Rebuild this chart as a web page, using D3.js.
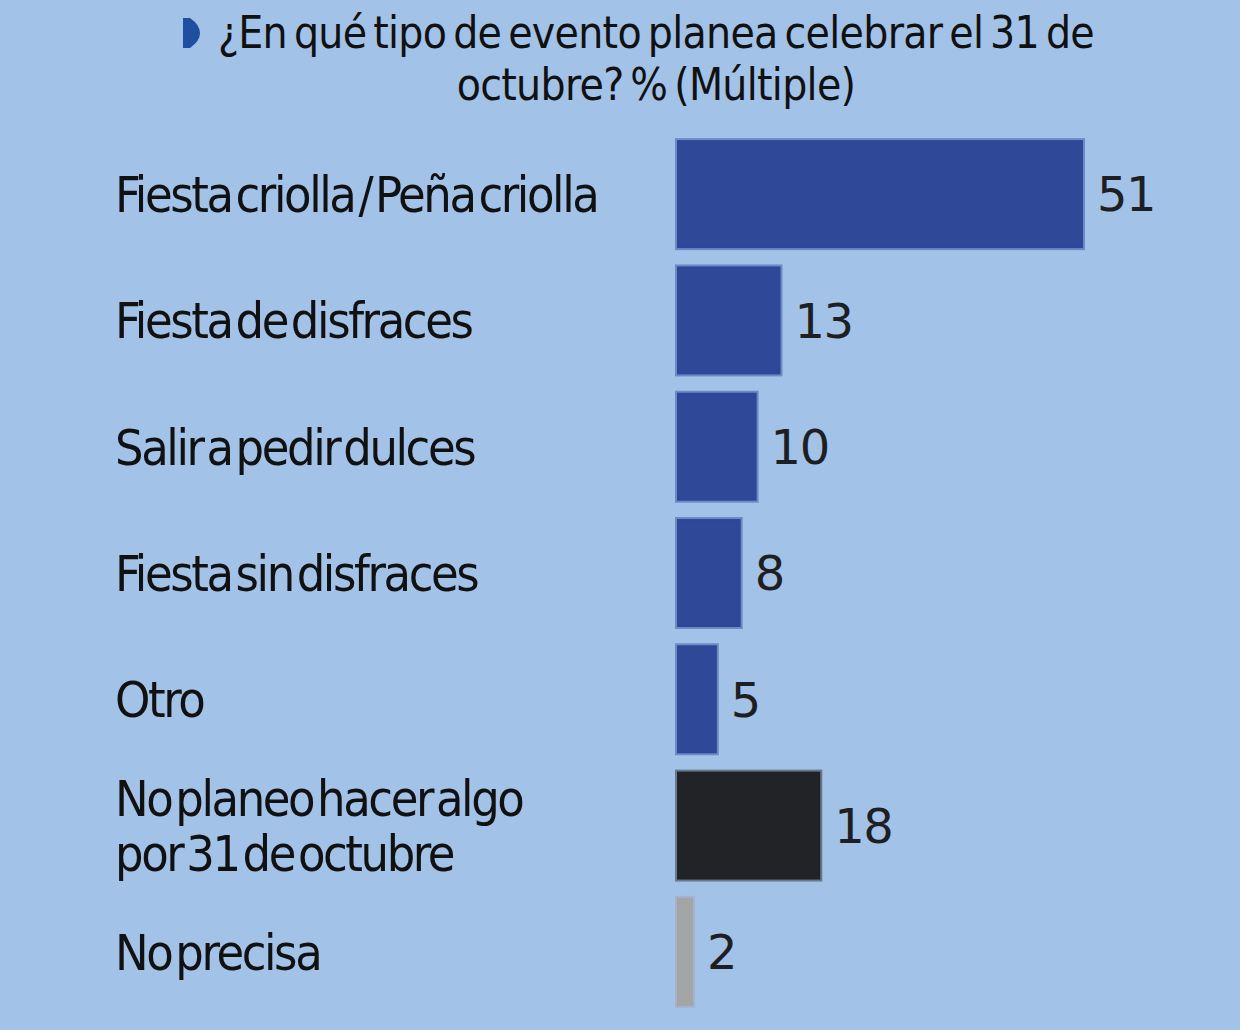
<!DOCTYPE html>
<html>
<head>
<meta charset="utf-8">
<script src="https://cdn.jsdelivr.net/npm/d3@7"></script>
<style>
  html, body { margin: 0; padding: 0; background: #a2c2e8; }
  svg { display: block; }
</style>
</head>
<body>
<svg id="chart" width="1240" height="1030"></svg>
<script>
const categories = [
  "Fiesta criolla / Peña criolla",
  "Fiesta de disfraces",
  "Salir a pedir dulces",
  "Fiesta sin disfraces",
  "Otro",
  "No planeo hacer algo|por 31 de octubre",
  "No precisa"
];
const values = [51, 13, 10, 8, 5, 18, 2];
const barColors = ["#2f4898", "#2f4898", "#2f4898", "#2f4898", "#2f4898", "#222326", "#a4a5a7"];
const titleLines = ["¿En qué tipo de evento planea celebrar el 31 de", "octubre? % (Múltiple)"];

const W = 1240, H = 1030;
const svg = d3.select("#chart");
svg.append("rect").attr("width", W).attr("height", H).attr("fill", "#a2c2e8");

const x = d3.scaleLinear().domain([0, 51]).range([677, 1083]);
const y = d3.scaleBand().domain(categories).range([131, 1015]).paddingInner(0.145).paddingOuter(0.0725);

const labelFont = "'Liberation Sans Narrow', 'DejaVu Sans Condensed', sans-serif";

// Title
const title = svg.append("g");
title.selectAll("text").data(titleLines).join("text")
  .attr("x", 656)
  .attr("y", (d, i) => 48 + i * 52)
  .attr("text-anchor", "middle")
  .attr("font-family", labelFont)
  .attr("font-size", 44)
  .attr("letter-spacing", -0.7)
  .attr("word-spacing", -5)
  .attr("fill", "#111")
  .text(d => d);
title.append("path")
  .attr("d", "M183,18 L190,18 Q200,25 200,33 Q200,41 190,48 L183,48 Z")
  .attr("fill", "#1f4fa0");

// Bars
svg.append("g").selectAll("rect").data(categories).join("rect")
  .attr("x", x(0))
  .attr("y", d => y(d))
  .attr("width", (d, i) => x(values[i]) - x(0))
  .attr("height", y.bandwidth())
  .attr("fill", (d, i) => barColors[i])
  .attr("stroke", (d, i) => barColors[i])
  .attr("stroke-opacity", 0.45)
  .attr("stroke-width", 4);

// Value labels
svg.append("g").selectAll("text").data(categories).join("text")
  .attr("x", (d, i) => x(values[i]) + 14)
  .attr("y", d => y(d) + y.bandwidth() / 2)
  .attr("dy", "0.36em")
  .attr("font-family", "'DejaVu Sans', sans-serif")
  .attr("font-size", 48)
  .attr("letter-spacing", -1.5)
  .attr("fill", "#1e1f22")
  .text((d, i) => values[i]);

// Category labels
const lab = svg.append("g").selectAll("text").data(categories).join("text")
  .attr("x", 115)
  .attr("y", d => y(d) + y.bandwidth() / 2)
  .attr("font-family", labelFont)
  .attr("font-size", 50)
  .attr("letter-spacing", -2.4)
  .attr("word-spacing", -8)
  .attr("fill", "#111");
lab.each(function(d) {
  const parts = d.split("|");
  const t = d3.select(this);
  parts.forEach((p, j) => {
    t.append("tspan")
      .attr("x", 115)
      .attr("dy", j === 0 ? (0.36 - (parts.length - 1) * 0.55) + "em" : "1.1em")
      .text(p);
  });
});
</script>
</body>
</html>
